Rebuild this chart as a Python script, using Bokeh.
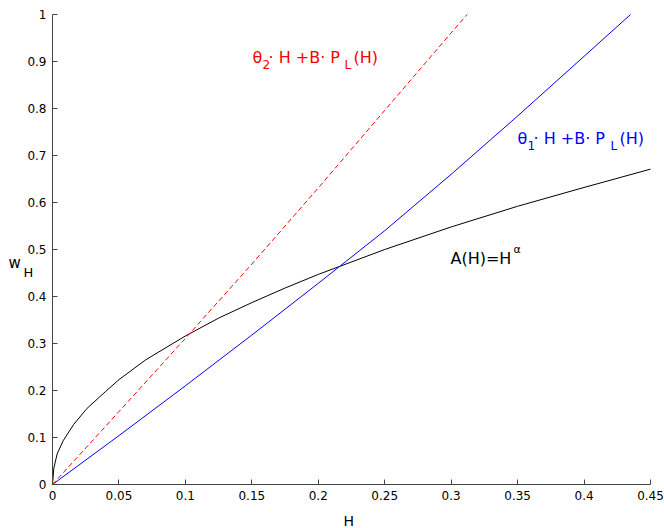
from bokeh.plotting import figure
from bokeh.models import Label, Range1d, FixedTicker
from bokeh.embed import file_html
from bokeh.resources import INLINE

# ---- data ----
h_black = [0, 0.001, 0.0035, 0.008, 0.016, 0.026, 0.04, 0.05, 0.07, 0.1, 0.125, 0.15, 0.175, 0.2,
           0.25, 0.3, 0.35, 0.4, 0.45]
a_black = [0, 0.035, 0.065, 0.093, 0.128, 0.162, 0.198, 0.223, 0.265, 0.316, 0.354, 0.387, 0.418, 0.447,
           0.5, 0.548, 0.592, 0.632, 0.671]

h_blue = [0, 0.05, 0.1, 0.15, 0.2, 0.25, 0.3, 0.35, 0.4, 0.435]
w_blue = [0, 0.104, 0.21, 0.318, 0.428, 0.54, 0.66, 0.784, 0.911, 1.0]

h_red = [0, 0.05, 0.1, 0.15, 0.2, 0.25, 0.3, 0.312]
w_red = [0, 0.155, 0.311, 0.469, 0.631, 0.796, 0.961, 1.0]

x_ticks = [0, 0.05, 0.1, 0.15, 0.2, 0.25, 0.3, 0.35, 0.4, 0.45]
y_ticks = [0, 0.1, 0.2, 0.3, 0.4, 0.5, 0.6, 0.7, 0.8, 0.9, 1]

FONT = "DejaVu Sans"
W, Hc = 664, 528
X0, X1, Y0, Y1 = 52.0, 650.0, 484.0, 14.0


def dx(px):
    return (px - X0) / (X1 - X0) * 0.45


def dy(py):
    return (Y0 - py) / (Y0 - Y1)


p = figure(width=W, height=Hc, output_backend="svg", toolbar_location=None,
           x_range=Range1d(dx(0), dx(W)), y_range=Range1d(dy(Hc), dy(0)),
           min_border_left=0, min_border_right=0, min_border_top=0, min_border_bottom=0)
p.outline_line_color = None
p.xgrid.visible = False
p.ygrid.visible = False

for ax in (p.xaxis[0], p.yaxis[0]):
    ax.fixed_location = 0
    ax.major_tick_in = 5
    ax.major_tick_out = 0
    ax.minor_tick_line_color = None
    ax.axis_line_color = "#444444"
    ax.major_tick_line_color = "#444444"
    ax.major_label_text_font = FONT
    ax.major_label_text_font_size = "12px"
    ax.major_label_text_color = "black"

p.xaxis[0].bounds = (0, 0.45)
p.yaxis[0].bounds = (0, 1)
p.xaxis[0].ticker = FixedTicker(ticks=x_ticks)
p.yaxis[0].ticker = FixedTicker(ticks=y_ticks)
p.xaxis[0].major_label_overrides = {0: "0", 0.05: "0.05", 0.1: "0.1", 0.15: "0.15", 0.2: "0.2",
                                     0.25: "0.25", 0.3: "0.3", 0.35: "0.35", 0.4: "0.4", 0.45: "0.45"}
p.yaxis[0].major_label_overrides = {0: "0", 1: "1"}
p.xaxis[0].major_label_standoff = 6
p.yaxis[0].major_label_standoff = 6

p.line(h_black, a_black, line_color="black", line_width=1)
p.line(h_blue, w_blue, line_color="blue", line_width=1)
p.line(h_red, w_red, line_color="red", line_width=1, line_dash="5 3")


def put(text, px, py, size, color):
    p.add_layout(Label(x=dx(px), y=dy(py), text=text, text_font=FONT, text_font_size=size,
                       text_color=color, text_baseline="alphabetic", text_align="left"))


# red label
put("θ", 252, 57, "16px", "red")
put("2", 262, 64, "12px", "red")
put("· H +B· P", 268, 57, "16px", "red")
put("L", 344, 64, "12px", "red")
put("(H)", 353, 57, "16px", "red")

# blue label
put("θ", 517, 138, "16px", "blue")
put("1", 527, 145, "12px", "blue")
put("· H +B· P", 533, 138, "16px", "blue")
put("L", 610, 145, "12px", "blue")
put("(H)", 619, 138, "16px", "blue")

# black label
put("A(H)=H", 450, 258, "16px", "black")
put("α", 513, 249, "11px", "black")

# axis labels
put("w", 8, 262, "15px", "black")
put("H", 23, 272, "13px", "black")
put("H", 343, 520, "14px", "black")

open("out.html", "w").write(file_html(p, INLINE))
